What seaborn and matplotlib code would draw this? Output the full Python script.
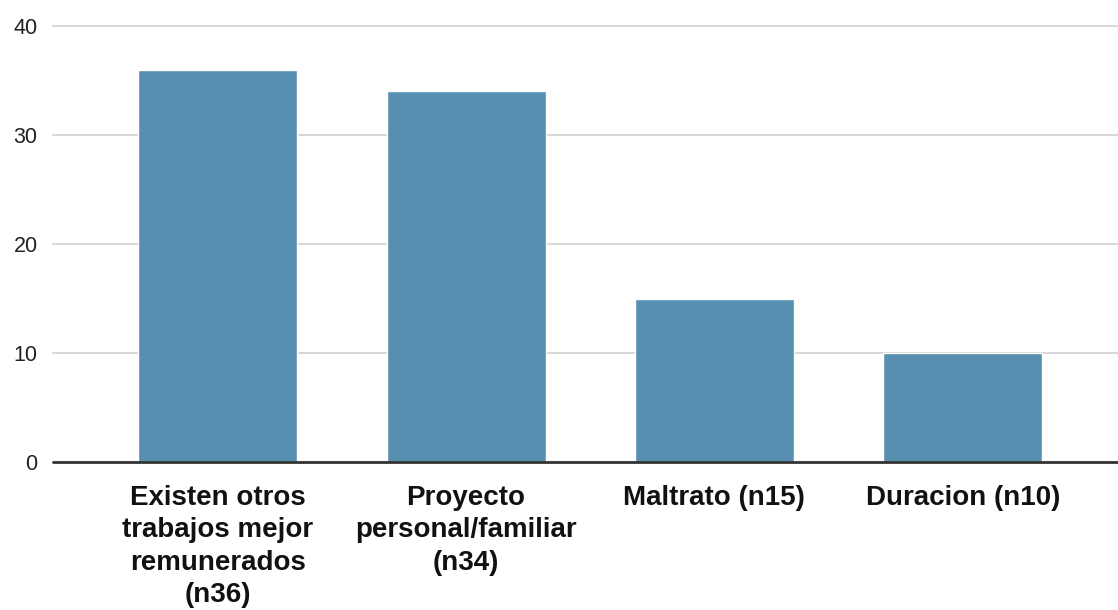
import matplotlib
matplotlib.use("Agg")
import matplotlib.pyplot as plt
import seaborn as sns
import pandas as pd

categories = [
    "Existen otros\ntrabajos mejor\nremunerados\n(n36)",
    "Proyecto\npersonal/familiar\n(n34)",
    "Maltrato (n15)",
    "Duracion (n10)",
]
values = [36, 34, 15, 10]
y_ticks = [0, 10, 20, 30, 40]

df = pd.DataFrame({"motivo": categories, "n": values})

sns.set_theme(style="white")
plt.rcParams["font.family"] = ["Liberation Sans", "DejaVu Sans"]

fig = plt.figure(figsize=(11.18, 6.10), dpi=100)
ax = fig.add_axes([0.0474, 0.2426, 0.9526, 0.7148])

sns.barplot(data=df, x="motivo", y="n", color="#568faf", saturation=1,
            width=0.64, ax=ax, zorder=3)

ax.set_ylim(0, 40)
ax.set_xlim(-0.663, 3.625)
ax.set_yticks(y_ticks)
ax.yaxis.grid(True, color="#d9d9d9", linewidth=1.5, zorder=0)
for gl in ax.get_ygridlines():
    gl.set_clip_on(False)
ax.set_axisbelow(True)
ax.axhline(0, color="#333333", linewidth=2, zorder=4, clip_on=False)

for s in ax.spines.values():
    s.set_visible(False)

ax.set_xlabel("")
ax.set_ylabel("")
ax.tick_params(axis="y", length=0, pad=11, labelsize=15.5, labelcolor="#222222")
ax.tick_params(axis="x", length=0, pad=16.5, labelsize=20, labelcolor="#111111")
for lab in ax.get_xticklabels():
    lab.set_fontweight("bold")
    lab.set_linespacing(1.32)

fig.savefig("out.png", dpi=100, facecolor="white")
